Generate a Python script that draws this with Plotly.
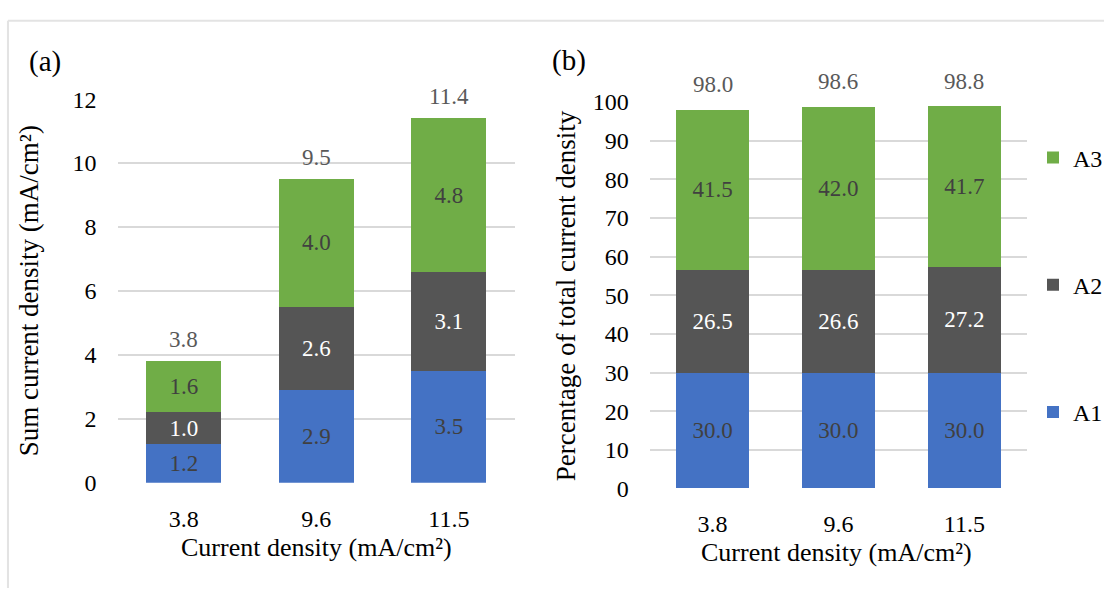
import plotly.graph_objects as go

# Categories (current density, mA/cm2)
categories = ["3.8", "9.6", "11.5"]

# (a) absolute current density of each component
a1_abs = [1.2, 2.9, 3.5]
a2_abs = [1.0, 2.6, 3.1]
a3_abs = [1.6, 4.0, 4.8]
total_abs = [3.8, 9.5, 11.4]

# (b) share of total current density, %
a1_pct = [30.0, 30.0, 30.0]
a2_pct = [26.5, 26.6, 27.2]
a3_pct = [41.5, 42.0, 41.7]
total_pct = [98.0, 98.6, 98.8]

y_ticks_a = [0, 2, 4, 6, 8, 10, 12]
y_ticks_b = [0, 10, 20, 30, 40, 50, 60, 70, 80, 90, 100]

W, H = 1108, 601
FONT = "Liberation Serif"
C_A1, C_A2, C_A3 = "#4472C4", "#555555", "#70AD47"
DARK = "#404040"
GRID = "#D9D9D9"


def px_x(p):
    return p / W


def px_y(p):
    return 1 - p / H


fig = go.Figure()

series = [
    ("A1", C_A1, DARK, a1_abs, a1_pct, 3),
    ("A2", C_A2, "white", a2_abs, a2_pct, 2),
    ("A3", C_A3, DARK, a3_abs, a3_pct, 1),
]

for name, color, tcol, vals_a, vals_b, rank in series:
    fig.add_trace(go.Bar(
        x=categories, y=vals_a, name=name, marker_color=color,
        marker_line_width=0, width=0.565,
        text=[f"{v:.1f}" for v in vals_a], textposition="inside",
        insidetextanchor="middle", textangle=0, constraintext="none",
        textfont=dict(family=FONT, size=23, color=tcol),
        xaxis="x", yaxis="y", showlegend=False,
    ))
    fig.add_trace(go.Bar(
        x=categories, y=vals_b, name=name, marker_color=color,
        marker_line_width=0, width=0.58,
        text=[f"{v:.1f}" for v in vals_b], textposition="inside",
        insidetextanchor="middle", textangle=0, constraintext="none",
        textfont=dict(family=FONT, size=23, color=tcol),
        xaxis="x2", yaxis="y2", showlegend=True, legendgroup=name,
        legendrank=rank,
    ))

# Stack totals above each bar (x given as category index)
annotations = []
for i, t in enumerate(total_abs):
    annotations.append(dict(x=i, y=t, xref="x", yref="y", text=f"{t:.1f}",
                            showarrow=False, yanchor="bottom", yshift=7,
                            font=dict(family=FONT, size=23, color="#595959")))
for i, t in enumerate(total_pct):
    annotations.append(dict(x=i, y=t, xref="x2", yref="y2", text=f"{t:.1f}",
                            showarrow=False, yanchor="bottom", yshift=11,
                            font=dict(family=FONT, size=23, color="#595959")))

# Panel labels and axis titles
text_items = [
    ("(a)", 45, 51, 0, 29),
    ("(b)", 571, 50, 0, 29),
    ("Current density (mA/cm²)", 318, 559, 0, 26),
    ("Current density (mA/cm²)", 840, 564, 0, 26),
    ("Sum current density (mA/cm²)", 30, 290, -90, 27),
    ("Percentage of total current density", 568, 295, -90, 27),
]
for txt, x, y, ang, sz in text_items:
    annotations.append(dict(x=px_x(x), y=px_y(y), xref="paper", yref="paper",
                            text=txt, showarrow=False, textangle=ang,
                            xanchor="center", yanchor="middle",
                            font=dict(family=FONT, size=sz, color="black")))

axis_common = dict(
    showline=False, zeroline=False, ticks="",
    tickfont=dict(family=FONT, size=24, color="black"),
)

fig.update_layout(
    width=W, height=H,
    margin=dict(l=0, r=0, t=0, b=0),
    paper_bgcolor="white", plot_bgcolor="white",
    barmode="stack",
    font=dict(family=FONT, color="black"),
    xaxis=dict(domain=[px_x(118), px_x(517)], anchor="y", type="category",
               range=[-0.5, 2.5], tickangle=0, showgrid=False,
               ticklabelstandoff=19, **axis_common),
    yaxis=dict(domain=[px_y(491), px_y(90)], anchor="x", range=[0, 12],
               tickvals=y_ticks_a, showgrid=True, gridcolor=GRID, gridwidth=2,
               ticklabelstandoff=20, **axis_common),
    xaxis2=dict(domain=[px_x(652), px_x(1031)], anchor="y2", type="category",
                range=[-0.5, 2.5], tickangle=0, showgrid=False,
                ticklabelstandoff=19, **axis_common),
    yaxis2=dict(domain=[px_y(497), px_y(93)], anchor="x2", range=[0, 100],
                tickvals=y_ticks_b, showgrid=True, gridcolor=GRID, gridwidth=2,
                ticklabelstandoff=20, **axis_common),
    legend=dict(x=px_x(1037), y=px_y(128), xanchor="left", yanchor="top",
                traceorder="grouped", tracegroupgap=93,
                font=dict(family=FONT, size=24, color="black"),
                bgcolor="rgba(0,0,0,0)", itemwidth=30),
    annotations=annotations,
    shapes=[
        dict(type="line", xref="paper", yref="paper", x0=px_x(8), x1=1.0,
             y0=px_y(8), y1=px_y(8), line=dict(color="#E3E3E3", width=2)),
        dict(type="line", xref="paper", yref="paper", x0=px_x(8), x1=px_x(8),
             y0=px_y(8), y1=0, line=dict(color="#E3E3E3", width=2)),
    ],
)

# Pin the chart to the page corner with no body margin or scrollbars
page_css = (
    "document.documentElement.style.margin='0';"
    "document.documentElement.style.padding='0';"
    "document.documentElement.style.overflow='hidden';"
    "document.body.style.margin='0';"
    "document.body.style.padding='0';"
    "document.body.style.overflow='hidden';"
)

fig.write_html("out.html", post_script=page_css)
